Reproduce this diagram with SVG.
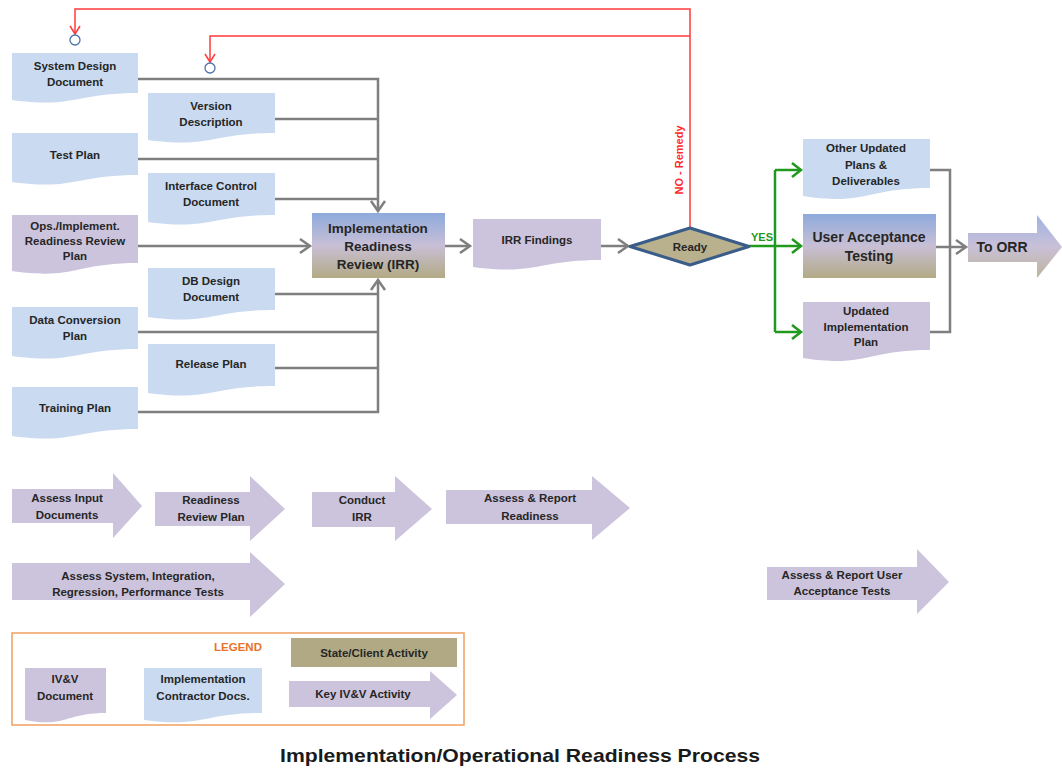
<svg xmlns="http://www.w3.org/2000/svg" width="1062" height="768" viewBox="0 0 1062 768">
<style>
.t{font-family:"Liberation Sans",Arial,sans-serif;font-weight:bold;font-size:11.5px;fill:#262626;text-anchor:middle;dominant-baseline:central}
.tb{font-size:13.5px}
.blue{fill:#c9daf1}
.purp{fill:#ccc3dc}
.g{fill:none;stroke:#7f7f7f;stroke-width:2.5}
.gr{fill:none;stroke:#1f9a1f;stroke-width:2.5}
.rd{fill:none;stroke:#ff3b3b;stroke-width:1.5}
</style>
<defs>
<linearGradient id="grad" x1="0" y1="0" x2="0" y2="1">
<stop offset="0" stop-color="#8eaadc"/>
<stop offset="0.5" stop-color="#c8bfd6"/>
<stop offset="1" stop-color="#b2aa84"/>
</linearGradient>
<linearGradient id="grad2" x1="0" y1="0" x2="0" y2="1">
<stop offset="0" stop-color="#9fb2e2"/>
<stop offset="0.5" stop-color="#c9c0d8"/>
<stop offset="1" stop-color="#bdb59a"/>
</linearGradient>
</defs>
<rect width="1062" height="768" fill="#ffffff"/>

<g id="connectors">
<!-- upper inputs -->
<path class="g" d="M138,79 H378 V210"/>
<path class="g" d="M275,119 H378 M138,159 H378 M275,199 H378"/>
<path class="g" d="M371,201 L378,211 L385,201"/>
<!-- lower inputs -->
<path class="g" d="M138,412 H378 V281"/>
<path class="g" d="M275,294 H378 M138,332 H378 M275,368 H378"/>
<path class="g" d="M371,290 L378,280 L385,290"/>
<!-- ops -->
<path class="g" d="M138,246 H310"/>
<path class="g" d="M300,239 L310,246 L300,253"/>
<!-- IRR to findings -->
<path class="g" d="M445,246 H470"/>
<path class="g" d="M460,239 L470,246 L460,253"/>
<!-- findings to ready -->
<path class="g" d="M601,246 H628"/>
<path class="g" d="M618,239 L628,246 L618,253"/>
<!-- red feedback -->
<path class="rd" d="M690,228 V9 H75 V34"/>
<path class="rd" d="M690,36 H210 V62"/>
<path class="rd" d="M70,26 L75,34 L80,26"/>
<path class="rd" d="M205,54 L210,62 L215,54"/>
<circle cx="75" cy="40" r="5" fill="#ffffff" stroke="#4f72a8" stroke-width="1.3"/>
<circle cx="210" cy="68" r="5" fill="#ffffff" stroke="#4f72a8" stroke-width="1.3"/>
<text class="t" x="679" y="160" transform="rotate(-90 679 160)" style="fill:#ff2a2a;font-size:11px">NO - Remedy</text>
<!-- green yes -->
<path class="gr" d="M749,246 H801 M775,170 V332 M775,170 H801 M775,332 H801"/>
<path class="gr" d="M792,163 L801,170 L792,177 M792,239 L801,246 L792,253 M792,325 L801,332 L792,339"/>
<text class="t" x="762" y="237" style="fill:#1f9a1f;font-size:11px">YES</text>
<!-- gray bracket to ORR -->
<path class="g" d="M930,170 H950 V332 H930 M936,247 H965"/>
<path class="g" d="M956,240 L966,247 L956,254"/>
</g>

<g id="sdd"><path class="blue" d="M12,53 H138 V93 C75,93 75,108.5 12,100 Z"/><text class="t" x="75" y="66">System Design</text><text class="t" x="75" y="82">Document</text></g>
<g id="vd"><path class="blue" d="M148,93 H275 V133 C211,133 211,148.5 148,140 Z"/><text class="t" x="211" y="106">Version</text><text class="t" x="211" y="122">Description</text></g>
<g id="tp"><path class="blue" d="M12,133 H138 V175 C75,175 75,190.5 12,182 Z"/><text class="t" x="75" y="155">Test Plan</text></g>
<g id="icd"><path class="blue" d="M148,173 H275 V215 C211,215 211,230.5 148,222 Z"/><text class="t" x="211" y="186">Interface Control</text><text class="t" x="211" y="202">Document</text></g>
<g id="ops"><path class="purp" d="M12,215 H138 V263 C75,263 75,280 12,271 Z"/><text class="t" x="75" y="226">Ops./Implement.</text><text class="t" x="75" y="241">Readiness Review</text><text class="t" x="75" y="256">Plan</text></g>
<g id="dbd"><path class="blue" d="M148,268 H275 V310 C211,310 211,325.5 148,317 Z"/><text class="t" x="211" y="281">DB Design</text><text class="t" x="211" y="297">Document</text></g>
<g id="dcp"><path class="blue" d="M12,307 H138 V349 C75,349 75,364.5 12,356 Z"/><text class="t" x="75" y="320">Data Conversion</text><text class="t" x="75" y="336">Plan</text></g>
<g id="rp"><path class="blue" d="M148,344 H275 V386 C211,386 211,401.5 148,393 Z"/><text class="t" x="211" y="364">Release Plan</text></g>
<g id="trp"><path class="blue" d="M12,387 H138 V429 C75,429 75,444.5 12,436 Z"/><text class="t" x="75" y="408">Training Plan</text></g>

<g id="irr"><rect x="312" y="213" width="133" height="65" fill="url(#grad)"/><text class="t tb" x="378" y="228">Implementation</text><text class="t tb" x="378" y="246">Readiness</text><text class="t tb" x="378" y="264">Review (IRR)</text></g>
<g id="findings"><path class="purp" d="M473,219 H601 V260 C537,260 537,275.5 473,267 Z"/><text class="t" x="537" y="240">IRR Findings</text></g>
<g id="ready"><polygon points="630,246.5 690,228 749,246.5 690,265" fill="#b9b08e" stroke="#3a5c88" stroke-width="3" stroke-linejoin="round"/><text class="t" x="690" y="247">Ready</text></g>
<g id="other"><path class="blue" d="M803,139 H930 V188 C866,188 866,206 803,196 Z"/><text class="t" x="866" y="148">Other Updated</text><text class="t" x="866" y="164.5">Plans &amp;</text><text class="t" x="866" y="181">Deliverables</text></g>
<g id="uat"><rect x="803" y="214" width="133" height="64" fill="url(#grad)"/><text class="t" x="869" y="237" style="font-size:14px">User Acceptance</text><text class="t" x="869" y="256" style="font-size:14px">Testing</text></g>
<g id="uip"><path class="purp" d="M803,302 H930 V350 C866,350 866,368 803,358 Z"/><text class="t" x="866" y="311">Updated</text><text class="t" x="866" y="327">Implementation</text><text class="t" x="866" y="342">Plan</text></g>
<g id="orr"><polygon points="968,233 1037,233 1037,215 1062,247 1037,278 1037,262 968,262" fill="url(#grad2)"/><text class="t" x="1002" y="247" style="font-size:14px">To ORR</text></g>

<g id="a1"><polygon class="purp" points="12,489 113,489 113,473 142,506 113,538 113,523 12,523"/><text class="t" x="67" y="498">Assess Input</text><text class="t" x="67" y="515">Documents</text></g>
<g id="a2"><polygon class="purp" points="155,492 250,492 250,476 285,509 250,541 250,526 155,526"/><text class="t" x="211" y="500">Readiness</text><text class="t" x="211" y="517">Review Plan</text></g>
<g id="a3"><polygon class="purp" points="312,492 395,492 395,476 432,509 395,541 395,527 312,527"/><text class="t" x="362" y="500">Conduct</text><text class="t" x="362" y="517">IRR</text></g>
<g id="a4"><polygon class="purp" points="446,490 592,490 592,476 630,508 592,540 592,524 446,524"/><text class="t" x="530" y="498">Assess &amp; Report</text><text class="t" x="530" y="516">Readiness</text></g>
<g id="a5"><polygon class="purp" points="12,563 250,563 250,552 285,584 250,617 250,600 12,600"/><text class="t" x="138" y="576">Assess System, Integration,</text><text class="t" x="138" y="592">Regression, Performance Tests</text></g>
<g id="a6"><polygon class="purp" points="767,567 917,567 917,549 949,582 917,614 917,600 767,600"/><text class="t" x="842" y="575">Assess &amp; Report User</text><text class="t" x="842" y="591">Acceptance Tests</text></g>

<g id="legend">
<rect x="12" y="633" width="452" height="92" fill="none" stroke="#f0a060" stroke-width="1.5"/>
<text class="t" x="238" y="647" style="fill:#e8742a">LEGEND</text>
<rect x="291" y="638" width="166" height="29" fill="#b0a984"/>
<text class="t" x="374" y="653">State/Client Activity</text>
<path class="purp" d="M25,668 H106 V713 C65,713 65,728 25,720 Z"/>
<text class="t" x="65" y="679">IV&amp;V</text><text class="t" x="65" y="696">Document</text>
<path class="blue" d="M144,668 H262 V713 C203,713 203,728 144,720 Z"/>
<text class="t" x="203" y="679">Implementation</text><text class="t" x="203" y="696">Contractor Docs.</text>
<polygon class="purp" points="289,681 430,681 430,671 457,695 430,719 430,707 289,707"/>
<text class="t" x="363" y="694">Key IV&amp;V Activity</text>
</g>

<text x="520" y="755" style="font-family:'Liberation Sans',Arial,sans-serif;font-weight:bold;font-size:19px;fill:#1a1a1a;text-anchor:middle;dominant-baseline:central" textLength="480" lengthAdjust="spacingAndGlyphs">Implementation/Operational Readiness Process</text>
</svg>
